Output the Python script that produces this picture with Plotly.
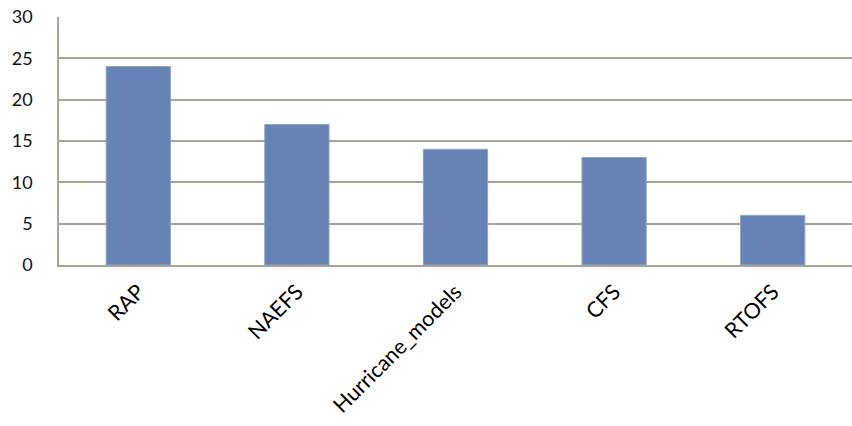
import plotly.graph_objects as go

categories = ["RAP", "NAEFS", "Hurricane_models", "CFS", "RTOFS"]
values = [24, 17, 14, 13, 6]
y_ticks = [0, 5, 10, 15, 20, 25, 30]

fig = go.Figure(go.Bar(
    x=categories, y=values, width=0.405,
    marker=dict(color="#6783b5", line=dict(color="#8ea2c8", width=1)),
))
fig.update_layout(
    width=852, height=426,
    margin=dict(l=59, r=0, t=17, b=161),
    paper_bgcolor="white", plot_bgcolor="white",
    showlegend=False,
    font=dict(family="Lato, Open Sans, sans-serif", color="#111111"),
)
fig.update_yaxes(
    range=[0, 30], tickvals=y_ticks, showgrid=True, gridcolor="#a8a396", gridwidth=1.5,
    showline=True, linecolor="#a8a396", linewidth=1.5, ticks="", ticklen=0,
    tickfont=dict(size=18, color="#111111"), zeroline=False, ticklabelstandoff=21,
)
fig.update_xaxes(
    showline=True, linecolor="#a8a396", linewidth=1.5, ticks="", tickangle=-45,
    tickfont=dict(size=21.5, color="#000000"), showgrid=False, ticklabelstandoff=4,
)
fig.write_html("out.html")
